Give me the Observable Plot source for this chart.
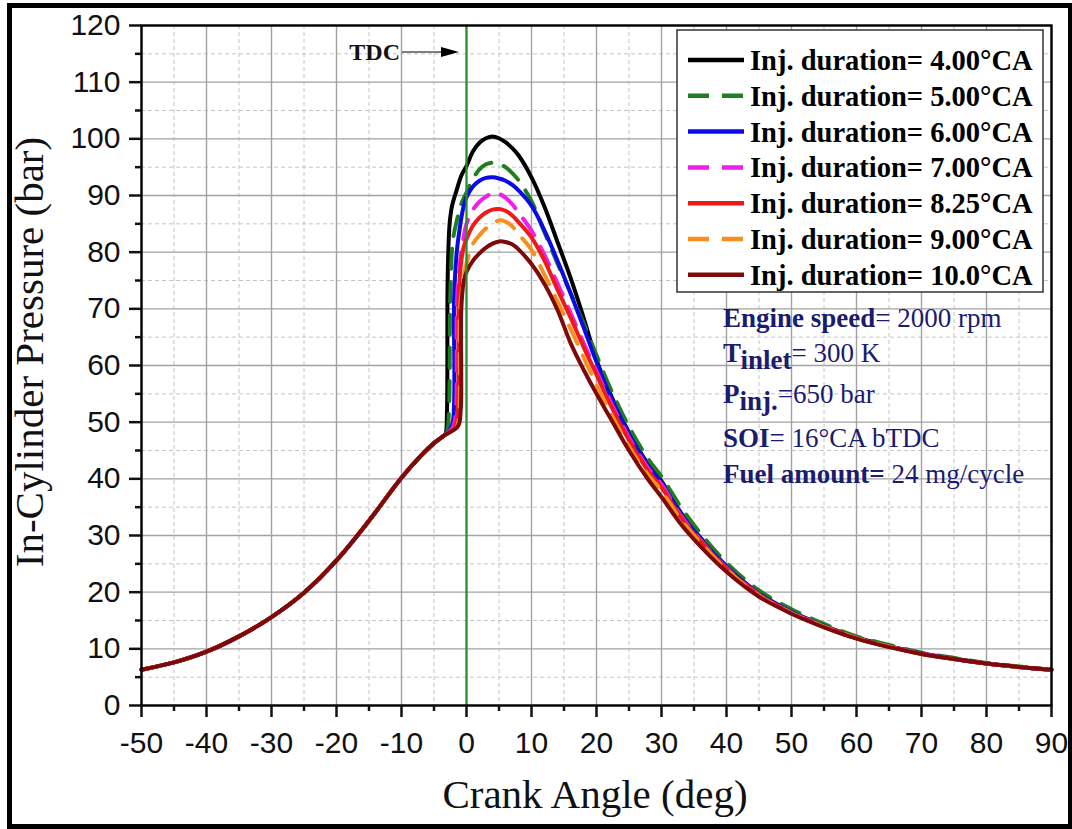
<!DOCTYPE html>
<html><head><meta charset="utf-8">
<script src="https://cdn.jsdelivr.net/npm/d3@7"></script>
<script src="https://cdn.jsdelivr.net/npm/@observablehq/plot@0.6"></script>
<style>
html,body{margin:0;padding:0;background:#fff;}
#chart{position:relative;width:1072px;height:829px;overflow:hidden;}
</style></head>
<body><div id="chart"></div>
<script>
// ---- data ----
const motoredAngle = [-50,-45,-40,-35,-30,-25,-20,-15,-10,-7,-5,-3.5];
const motoredP     = [6.3,7.6,9.5,12.2,15.6,19.9,25.6,32.6,40.2,44.1,46.3,47.6];
const postAngle = [0,1,2,3,4,5,6,7,8,10,12,14,16,18,20,22,25,28,30,33,36,40,45,50,55,60,65,70,75,80,85,90];

const preAngle_4 = [-3.2,-3.0,-2.9,-2.6,-2.2,-1.5,-0.8];
const preP_4     = [48.0,52,75,85,88.3,91,93.5];
const postP_4    = [95.2,97.8,99.3,100.1,100.4,100.1,99.4,98.4,97.1,93.2,88,81.8,75.5,68.5,61,55.3,48.2,42.5,39.6,34,29.6,24.6,19.8,16.6,14.1,12,10.5,9.2,8.3,7.4,6.8,6.3];

const preAngle_5 = [-3.0,-2.7,-2.5,-2.1,-1.5,-0.8];
const preP_5     = [48.3,52,72,82,85.5,88.5];
const postP_5    = [90.5,93,94.6,95.5,95.8,95.6,95,94,92.7,89,83.5,78,72.8,67.5,61.8,56.3,49.2,43.4,40.4,35,30.4,25.2,20.3,17,14.4,12.2,10.7,9.3,8.4,7.5,6.9,6.3];

const preAngle_6 = [-2.6,-2.1,-1.9,-1.5,-1.0,-0.5];
const preP_6     = [48.6,50,72,80,84.5,87.8];
const postP_6    = [89.7,91.6,92.6,93.1,93.2,93,92.6,91.9,90.9,88.2,83.8,78.5,72.8,66.8,60.6,55,47.9,42.2,39.3,33.8,29.4,24.5,19.7,16.5,14,11.9,10.4,9.2,8.2,7.4,6.8,6.3];

const preAngle_7 = [-2.2,-1.7,-1.5,-1.2,-0.6];
const preP_7     = [48.9,51,70,76,81.5];
const postP_7    = [85,87.5,88.9,89.8,90.4,90.3,89.6,88.5,87,83.8,79.5,74.5,69.3,64,59,54,47.3,41.8,39,33.5,29.2,24.3,19.6,16.4,14,11.9,10.4,9.2,8.2,7.4,6.8,6.3];

const preAngle_825 = [-1.8,-1.35,-1.2,-0.8,-0.4];
const preP_825     = [49.1,52,72,78.5,81];
const postP_825    = [82.3,84.7,86.1,87,87.5,87.6,87.3,86.5,85.3,82.6,78.5,73.4,68.5,63.3,58.4,53.4,46.8,41.3,38.5,33.2,29,24.2,19.5,16.3,13.9,11.9,10.4,9.1,8.2,7.4,6.8,6.3];

const preAngle_9 = [-1.5,-1.1,-1.0,-0.5];
const preP_9     = [49.2,52,70,75];
const postP_9    = [78,81.5,83,84.2,85,85.6,85.4,84.6,83.2,80.4,76,71.3,66.5,61.5,56.6,52,45.7,40.6,37.9,32.8,28.7,24,19.4,16.3,13.9,11.9,10.4,9.1,8.2,7.4,6.8,6.3];

const preAngle_10 = [-1.3,-0.9,-0.8,-0.4];
const preP_10     = [49.3,52,70,75];
const postP_10    = [76.5,78.5,79.8,80.8,81.5,81.9,81.8,81.4,80.5,77.9,74.4,69.8,64,59.3,55,51,45,39.8,36.8,32,28.1,23.6,19.2,16.2,13.8,11.8,10.3,9.1,8.2,7.4,6.8,6.3];

const seriesLabels = ["Inj. duration= 4.00°CA","Inj. duration= 5.00°CA","Inj. duration= 6.00°CA","Inj. duration= 7.00°CA","Inj. duration= 8.25°CA","Inj. duration= 9.00°CA","Inj. duration= 10.0°CA"];
const seriesColors = ["#000000","#1f7f1f","#0a0ae6","#f01ee6","#ee1a1a","#f5901e","#7d0a0a"];
const seriesDash   = [null,"20,13",null,"20,13",null,"20,13",null];
const preAngles = [preAngle_4,preAngle_5,preAngle_6,preAngle_7,preAngle_825,preAngle_9,preAngle_10];
const prePs     = [preP_4,preP_5,preP_6,preP_7,preP_825,preP_9,preP_10];
const postPs    = [postP_4,postP_5,postP_6,postP_7,postP_825,postP_9,postP_10];

const xTicks = [-50,-40,-30,-20,-10,0,10,20,30,40,50,60,70,80,90];
const xMinor = [-45,-35,-25,-15,-5,5,15,25,35,45,55,65,75,85];
const yTicks = [0,10,20,30,40,50,60,70,80,90,100,110,120];
const yMinor = [5,15,25,35,45,55,65,75,85,95,105,115];

const infoLines = [
  [["Engine speed", true, 0], ["= 2000 rpm", false, 0]],
  [["T", true, 0], ["inlet", true, 7], ["= 300 K", false, -7]],
  [["P", true, 0], ["inj.", true, 7], ["=650 bar", false, -7]],
  [["SOI", true, 0], ["= 16°CA bTDC", false, 0]],
  [["Fuel amount=", true, 0], [" 24 mg/cycle", false, 0]]
];

// ---- build table ----
const seriesData = seriesLabels.map((lab, i) => {
  const rows = [];
  motoredAngle.forEach((a, k) => rows.push({a, p: motoredP[k]}));
  preAngles[i].forEach((a, k) => rows.push({a, p: prePs[i][k]}));
  postAngle.forEach((a, k) => rows.push({a, p: postPs[i][k]}));
  return rows;
});

const serif = "'Liberation Serif','Times New Roman',serif";
const sans = "'Liberation Sans',Arial,sans-serif";
const fmt = d => String(d);

const plot = Plot.plot({
  width: 1072, height: 829,
  marginLeft: 141, marginRight: 21, marginTop: 25, marginBottom: 124,
  x: {domain: [-50, 90]},
  y: {domain: [0, 120]},
  style: {background: "transparent", fontFamily: sans, color: "#000"},
  marks: [
    Plot.gridX(xMinor, {stroke: "#c4c4c4", strokeOpacity: 1, strokeWidth: 1, strokeDasharray: "4,3"}),
    Plot.gridY(yMinor, {stroke: "#c4c4c4", strokeOpacity: 1, strokeWidth: 1, strokeDasharray: "4,3"}),
    Plot.gridX(xTicks, {stroke: "#a2a2a2", strokeOpacity: 1, strokeWidth: 1.4}),
    Plot.gridY(yTicks, {stroke: "#a2a2a2", strokeOpacity: 1, strokeWidth: 1.4}),
    ...seriesData.map((rows, i) => Plot.line(rows, {
      x: "a", y: "p", stroke: seriesColors[i], strokeWidth: 4,
      strokeDasharray: seriesDash[i] || undefined, curve: "catmull-rom"
    })),
    Plot.ruleX([0], {stroke: "#2a8c2a", strokeWidth: 2.2}),
    Plot.frame({stroke: "#000", strokeWidth: 2.4}),
    Plot.axisX(xTicks, {tickSize: 12, tickPadding: 14, fontSize: 30, strokeWidth: 2.5, label: null, color: "#111", tickFormat: fmt}),
    Plot.axisX(xMinor, {tickSize: 6, text: null, strokeWidth: 2.5, label: null, color: "#111"}),
    Plot.axisY(yTicks, {tickSize: 12, tickPadding: 9, fontSize: 30, strokeWidth: 2.5, label: null, color: "#111", tickFormat: fmt}),
    Plot.axisY(yMinor, {tickSize: 6, text: null, strokeWidth: 2.5, label: null, color: "#111"})
  ]
});

document.getElementById("chart").appendChild(plot);
const svg = d3.select(plot);

// outer border
svg.append("rect").attr("x", 9.5).attr("y", 5.5).attr("width", 1061).attr("height", 821)
  .attr("fill", "none").attr("stroke", "#000").attr("stroke-width", 5);

// axis titles
svg.append("text").attr("x", 595).attr("y", 808).attr("text-anchor", "middle")
  .attr("font-family", serif).attr("font-size", 41).attr("fill", "#111").text("Crank Angle (deg)");
svg.append("text").attr("transform", "translate(43,352) rotate(-90)").attr("text-anchor", "middle")
  .attr("font-family", serif).attr("font-size", 41).attr("fill", "#111").text("In-Cylinder Pressure (bar)");

// TDC annotation
svg.append("text").attr("x", 400).attr("y", 60).attr("text-anchor", "end")
  .attr("font-family", serif).attr("font-weight", "bold").attr("font-size", 24).attr("fill", "#111").text("TDC");
svg.append("line").attr("x1", 402).attr("x2", 446).attr("y1", 52).attr("y2", 52)
  .attr("stroke", "#000").attr("stroke-width", 1.2);
svg.append("path").attr("d", "M441,47 L459,52 L441,57 Z").attr("fill", "#000");

// legend
const lg = svg.append("g");
lg.append("rect").attr("x", 677).attr("y", 30).attr("width", 366).attr("height", 262)
  .attr("fill", "#fff").attr("stroke", "#333").attr("stroke-width", 1.5);
seriesLabels.forEach((lab, i) => {
  const yy = 60 + 35.8 * i;
  lg.append("line").attr("x1", 688).attr("x2", 744).attr("y1", yy).attr("y2", yy)
    .attr("stroke", seriesColors[i]).attr("stroke-width", 4.5)
    .attr("stroke-dasharray", seriesDash[i] ? "21,13" : null);
  lg.append("text").attr("x", 750).attr("y", yy + 10).attr("text-anchor", "start")
    .attr("font-family", serif).attr("font-weight", "bold").attr("font-size", 28.5)
    .attr("fill", "#000").text(lab);
});

// info block
const infoY = [327, 362, 403, 447, 483];
infoLines.forEach((parts, i) => {
  const t = svg.append("text").attr("x", 723).attr("y", infoY[i]).attr("text-anchor", "start")
    .attr("font-family", serif).attr("font-size", 27).attr("fill", "#1b1b6f");
  parts.forEach(([s, bold, dy]) => {
    t.append("tspan").attr("font-weight", bold ? "bold" : "normal").attr("dy", dy).text(s);
  });
});
</script>
</body></html>
